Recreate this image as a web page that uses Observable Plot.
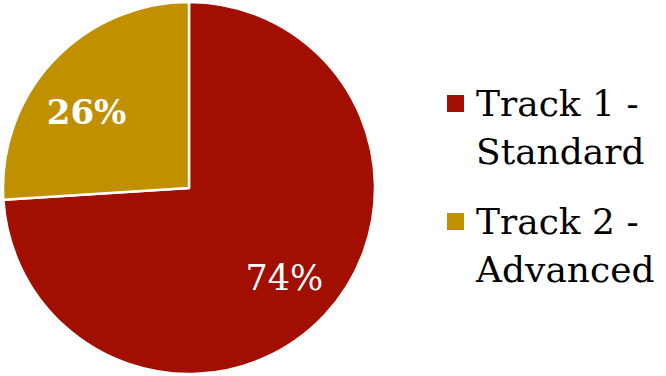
<!DOCTYPE html>
<html><head><meta charset="utf-8">
<script src="https://cdn.jsdelivr.net/npm/d3@7"></script>
<script src="https://cdn.jsdelivr.net/npm/@observablehq/plot@0.6"></script>
<style>
html,body{margin:0;padding:0;background:#fff;}
#wrap{position:relative;width:666px;height:376px;overflow:hidden;}
#wrap svg{display:block;}
.item{position:absolute;left:447px;font-family:"DejaVu Serif",serif;font-size:36px;line-height:48px;color:#000;}
.sw{position:absolute;left:0;top:15px;width:17px;height:17px;}
.txt{position:absolute;left:29px;top:0;white-space:nowrap;}
</style></head><body><div id="wrap"></div>
<script>
const categories = ["Track 1 - Standard", "Track 2 - Advanced"];
const legendLines = [["Track 1 -", "Standard"], ["Track 2 -", "Advanced"]];
const shares = [74, 26];
const valueLabels = ["74%", "26%"];
const colors = ["#A20E00", "#C09000"];

const data = categories.map((c, i) => ({category: c, value: shares[i], label: valueLabels[i]}));
const arcs = d3.pie().sort(null).value(d => d.value)(data);
const color = d3.scaleOrdinal(categories, colors);

const labelData = arcs.map((a, i) => {
  const m = (a.startAngle + a.endAngle) / 2;
  return {x: 0.7 * Math.sin(m), y: 0.7 * Math.cos(m), text: a.data.label, weight: i === 1 ? "bold" : "normal"};
});

function pieMark(index, scales) {
  const cx = scales.x(0), cy = scales.y(0), r = scales.x(1) - scales.x(0);
  const g = d3.create("svg:g").attr("transform", `translate(${cx},${cy})`);
  const arc = d3.arc().innerRadius(0).outerRadius(r);
  g.selectAll("path").data(arcs).join("path")
    .attr("d", arc)
    .attr("fill", d => color(d.data.category))
    .attr("stroke", "white")
    .attr("stroke-width", 2.5)
    .attr("stroke-linejoin", "round");
  return g.node();
}

const chart = Plot.plot({
  width: 666,
  height: 376,
  margin: 0,
  x: {domain: [-1, 1], range: [3, 375], axis: null},
  y: {domain: [-1, 1], range: [374, 2], axis: null},
  style: {background: "white"},
  marks: [
    pieMark,
    Plot.text(labelData.filter(d => d.weight === "normal"), {x: "x", y: "y", text: "text", fill: "white", fontSize: 35, fontFamily: "DejaVu Serif", textAnchor: "middle", dy: 1}),
    Plot.text(labelData.filter(d => d.weight === "bold"), {x: "x", y: "y", text: "text", fill: "white", fontSize: 34, fontWeight: "bold", fontFamily: "DejaVu Serif", textAnchor: "middle", dx: -8, dy: 14})
  ]
});
const wrap = document.getElementById("wrap");
wrap.appendChild(chart);

const tops = [80, 198];
legendLines.forEach((lines, i) => {
  const item = document.createElement("div");
  item.className = "item";
  item.style.top = tops[i] + "px";
  const sw = document.createElement("div");
  sw.className = "sw";
  sw.style.background = colors[i];
  item.appendChild(sw);
  const t = document.createElement("div");
  t.className = "txt";
  t.innerHTML = lines.join("<br>");
  item.appendChild(t);
  wrap.appendChild(item);
});
</script>
</body></html>
